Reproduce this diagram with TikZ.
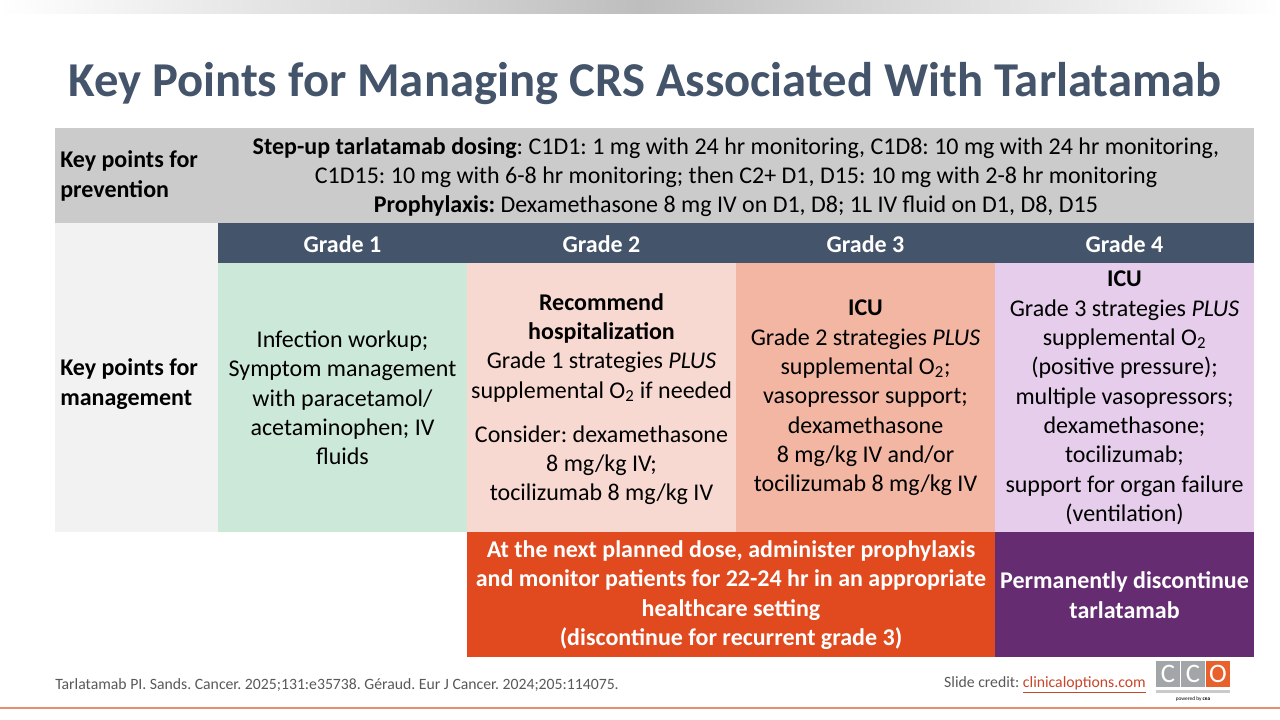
\documentclass[tikz,border=0pt]{standalone}
\usepackage{fontspec}
\setmainfont{Carlito}
\frenchspacing
\usetikzlibrary{positioning}
\definecolor{slate}{HTML}{44546A}
\definecolor{prevgray}{HTML}{CBCBCB}
\definecolor{labelgray}{HTML}{F2F2F2}
\definecolor{gradeone}{HTML}{CCE8D8}
\definecolor{gradetwo}{HTML}{F8D9D1}
\definecolor{gradethree}{HTML}{F2B6A3}
\definecolor{gradefour}{HTML}{E6CDEB}
\definecolor{nextdose}{HTML}{E04A1E}
\definecolor{stopdose}{HTML}{662C72}
\definecolor{topgray}{HTML}{BEBEBE}
\definecolor{footgray}{HTML}{595959}
\definecolor{linkred}{HTML}{C8462A}
\definecolor{logogray}{HTML}{A3A6A9}
\definecolor{logoorange}{HTML}{E8602C}
\definecolor{footline}{HTML}{E58F6D}
\tikzset{%
    title/.style={%
        font=\fontsize{36.5}{44}\selectfont\bfseries, text=slate, inner sep=0pt
    },
    cell_text/.style={%
        align=center, inner sep=0pt, font=\fontsize{18}{22}\selectfont
    },
    row_label/.style={%
        align=left, inner sep=0pt, anchor=west, font=\fontsize{18}{22}\selectfont\bfseries
    },
    grade_head/.style={%
        inner sep=0pt, text=white, font=\fontsize{18}{22}\selectfont\bfseries
    },
    action_text/.style={%
        align=center, inner sep=0pt, text=white, font=\fontsize{18}{22}\selectfont\bfseries
    },
    foot_text/.style={%
        inner sep=0pt, text=footgray, font=\fontsize{11.8}{14}\selectfont
    },
    logo_letter/.style={%
        inner sep=0pt, text=white, font=\fontsize{20}{24}\selectfont
    },
}

\begin{document}
\begin{tikzpicture}[x=0.75pt,y=-0.75pt]
    \useasboundingbox (0,0) rectangle (1280,720);
    \fill[white] (0,0) rectangle (1280,720);
    \shade[left color=white,right color=white,middle color=topgray] (0,0) rectangle (1280,14);

    \node[title] (heading) at (645,84) {Key Points for Managing CRS Associated With Tarlatamab};

    % prevention row
    \fill[prevgray] (55,128) rectangle (1254,223);
    \node[row_label] (prevlabel) at (60,176) {Key points for\\prevention};
    \node[cell_text] (prevtext) at (736,177) {\textbf{Step-up tarlatamab dosing}: C1D1: 1 mg with 24 hr monitoring, C1D8: 10 mg with 24 hr monitoring,\\
        C1D15: 10 mg with 6-8 hr monitoring; then C2+ D1, D15: 10 mg with 2-8 hr monitoring\\
        \textbf{Prophylaxis:} Dexamethasone 8 mg IV on D1, D8; 1L IV fluid on D1, D8, D15};

    % management row
    \fill[labelgray] (55,223) rectangle (218,532);
    \node[row_label] (mgmtlabel) at (60,384) {Key points for\\management};
    \fill[slate] (218,223) rectangle (1254,263);
    \foreach \g/\x in {1/342.5,2/601.5,3/865.5,4/1124.5}
        \node[grade_head] (head\g) at (\x,244) {Grade \g};

    \fill[gradeone] (218,263) rectangle (467,532);
    \fill[gradetwo] (467,263) rectangle (736,532);
    \fill[gradethree] (736,263) rectangle (995,532);
    \fill[gradefour] (995,263) rectangle (1254,532);

    \node[cell_text] (gradeone) at (342.5,398) {Infection workup;\\Symptom management\\with paracetamol/\\acetaminophen; IV\\fluids};
    \node[cell_text] (gradetwo) at (601.5,399) {\textbf{Recommend}\\\textbf{hospitalization}\\Grade 1 strategies \textit{PLUS}\\supplemental O\textsubscript{2} if needed\\[11pt]
        Consider: dexamethasone\\8 mg/kg IV;\\tocilizumab 8 mg/kg IV};
    \node[cell_text] (gradethree) at (865.5,398) {\textbf{ICU}\\Grade 2 strategies \textit{PLUS}\\supplemental O\textsubscript{2};\\vasopressor support;\\dexamethasone\\8 mg/kg IV and/or\\tocilizumab 8 mg/kg IV};
    \node[cell_text] (gradefour) at (1124.5,398) {\textbf{ICU}\\Grade 3 strategies \textit{PLUS}\\supplemental O\textsubscript{2}\\(positive pressure);\\multiple vasopressors;\\dexamethasone;\\tocilizumab;\\support for organ failure\\(ventilation)};

    % actions
    \fill[nextdose] (467,532) rectangle (995,657);
    \fill[stopdose] (995,532) rectangle (1254,657);
    \node[action_text] (redose) at (731,595) {At the next planned dose, administer prophylaxis\\and monitor patients for 22-24 hr in an appropriate\\healthcare setting\\(discontinue for recurrent grade 3)};
    \node[action_text] (discontinue) at (1124.5,595) {Permanently discontinue\\tarlatamab};

    % footer
    \node[foot_text,anchor=west] (refs) at (55,685) {Tarlatamab PI. Sands. Cancer. 2025;131:e35738. Géraud. Eur J Cancer. 2024;205:114075.};
    \node[foot_text,anchor=east] (credit) at (1146,685) {Slide credit: \textcolor{linkred}{\underline{clinicaloptions.com}}};

    \fill[logogray] (1156,661) rectangle (1180,687);
    \fill[logogray] (1181,661) rectangle (1205,687);
    \fill[logoorange] (1206,661) rectangle (1230,687);
    \foreach \l/\x in {C/1168,C/1193,O/1218}
        \node[logo_letter] at (\x,674) {\l};
    \fill[logogray!60] (1156,690) rectangle (1230,693);
    \node[inner sep=0pt,font=\fontsize{4}{5}\selectfont] (powered) at (1193,699) {powered by \textbf{cea}};

    \draw[footline,line width=1.5pt] (0,708) -- (1280,708);
\end{tikzpicture}
\end{document}
